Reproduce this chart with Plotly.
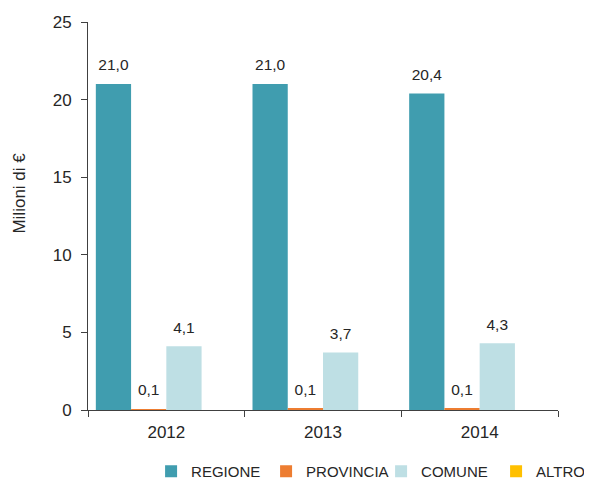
import plotly.graph_objects as go

years = ["2012", "2013", "2014"]
series_names = ["REGIONE", "PROVINCIA", "COMUNE", "ALTRO"]
regione = [21.0, 21.0, 20.4]
provincia = [0.06, 0.1, 0.1]
comune = [4.1, 3.7, 4.3]
altro = [0.0, 0.0, 0.0]
colors = ["#409DAF", "#ED7D31", "#BEDFE4", "#FFC000"]
y_ticks = [0, 5, 10, 15, 20, 25]
y_title = "Milioni di €"

values = [regione, provincia, comune, altro]
FONT = "Liberation Sans, Arial, sans-serif"

fig = go.Figure()
for name, vals, col in zip(series_names, values, colors):
    fig.add_trace(go.Bar(
        x=years, y=vals, name=name, marker=dict(color=col, line=dict(width=0)),
        hoverinfo="skip",
    ))
for name, vals in zip(series_names, values):
    txt = ["" if v == 0 else f"{v:.1f}".replace(".", ",") for v in vals]
    fig.add_trace(go.Scatter(
        x=years, y=vals, mode="markers+text", text=txt,
        textposition="top center",
        textfont=dict(size=15.5, color="#262626", family=FONT),
        marker=dict(size=14, opacity=0), showlegend=False, hoverinfo="skip",
    ))

# page body adds an 8px offset, so the figure is 8px smaller on each axis
fig.update_layout(
    width=584, height=480,
    margin=dict(l=80, r=34, t=14, b=78, autoexpand=False),
    paper_bgcolor="white", plot_bgcolor="white",
    barmode="group", bargap=0.1, bargroupgap=0,
    scattermode="group", scattergap=0.1,
    font=dict(family=FONT, size=17, color="#262626"),
    showlegend=True,
    legend=dict(orientation="h", xref="container", yref="container",
                x=0.245, y=-0.017, xanchor="left", yanchor="bottom",
                font=dict(size=15, color="#262626"),
                itemwidth=30, tracegroupgap=0,
                entrywidth=70, entrywidthmode="pixels"),
)
fig.add_annotation(
    text=y_title, textangle=-90, showarrow=False,
    xref="paper", yref="paper", x=-0.145, y=0.56,
    xanchor="center", yanchor="middle",
    font=dict(size=17, color="#262626"),
)
fig.update_xaxes(
    showline=True, linecolor="#404040", linewidth=1, automargin=False,
    ticks="outside", tickson="boundaries", ticklen=6, tickcolor="#404040",
    tickfont=dict(size=17), showgrid=False, ticklabelstandoff=7,
)
fig.update_yaxes(
    range=[0, 25], tickvals=y_ticks, showline=True, linecolor="#404040",
    linewidth=1, ticks="outside", ticklen=6, tickcolor="#404040",
    tickfont=dict(size=17), showgrid=False, zeroline=False, automargin=False,
    ticklabelstandoff=6,
)

fig.write_html("out.html")
